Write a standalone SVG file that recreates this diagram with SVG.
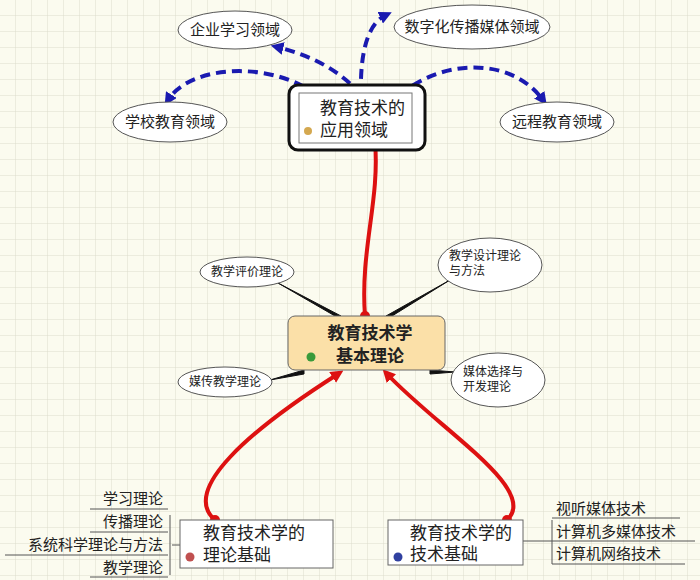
<svg xmlns="http://www.w3.org/2000/svg" width="700" height="580" viewBox="0 0 700 580">
<defs>
<pattern id="grid" width="16" height="16" patternUnits="userSpaceOnUse"><path d="M16 0V16H0" fill="none" stroke="#dcdccc" stroke-width="1"/></pattern>
<marker id="ab" viewBox="0 0 10 10" refX="5" refY="5" markerWidth="3.2" markerHeight="3.2" orient="auto"><path d="M0 0L10 5L0 10Z" fill="#1a1ab0"/></marker>
<marker id="ar" viewBox="0 0 10 10" refX="5" refY="5" markerWidth="3.2" markerHeight="3.2" orient="auto"><path d="M0 0L10 5L0 10Z" fill="#dd1111"/></marker>
<style>
text{font-family:"Liberation Serif","Noto Sans CJK SC",serif;fill:#222}
.e{fill:#fff;stroke:#555;stroke-width:1}
.b{fill:none;stroke:#1a1ab0;stroke-width:4;stroke-dasharray:10 6}
.r{fill:none;stroke:#dd1111;stroke-width:4}
.t{fill:#111;stroke:#111;stroke-width:1}
.s{font-size:15px}
.m{font-size:12px}
.l{font-size:17px}
.u{fill:none;stroke:#555;stroke-width:1}
</style>
</defs>
<rect width="700" height="580" fill="#fbfbef"/>
<rect width="700" height="580" fill="url(#grid)"/>
<g id="connectors">
<path class="b" d="M317 95C270 60 190 65 168 100" marker-end="url(#ab)"/>
<path class="b" d="M361 95C340 70 310 55 277 47" marker-end="url(#ab)"/>
<path class="b" d="M361 95C360 60 365 25 386 15" marker-end="url(#ab)"/>
<path class="b" d="M400 95C440 60 510 55 543 100" marker-end="url(#ab)"/>
<circle cx="317" cy="95" r="5" fill="#1a1ab0"/><circle cx="361" cy="95" r="5" fill="#1a1ab0"/><circle cx="400" cy="95" r="5" fill="#1a1ab0"/>
<path class="r" d="M365 316C360 250 380 200 375 142" marker-end="url(#ar)"/>
<circle cx="365" cy="316" r="5" fill="#dd1111"/>
<path class="r" d="M215 520C180 490 250 430 338 374" marker-end="url(#ar)"/>
<path class="r" d="M507 520C540 490 440 430 387 374" marker-end="url(#ar)"/>
<circle cx="215" cy="520" r="5" fill="#dd1111"/><circle cx="507" cy="520" r="5" fill="#dd1111"/>
<path class="t" d="M278 283L341 316L335 316Z"/>
<path class="t" d="M450 280L386 316L392 316Z"/>
<path class="t" d="M270 380L304 370L304 374Z"/>
<path class="t" d="M455 372L430 370L430 374Z"/>
<path class="u" d="M180 545H172M170 515V575M523 541H552M552 520V564"/>
</g>
<g id="n-app">
<rect x="289" y="85" width="136" height="65" rx="9" fill="#fff" stroke="#111" stroke-width="3"/>
<rect x="299" y="93" width="113" height="50" fill="#fff" stroke="#777"/>
<text class="l" x="320" y="114">教育技术的</text><text class="l" x="320" y="136">应用领域</text>
<circle cx="308" cy="131" r="4" fill="#d4a850"/>
</g>
<g id="n-qy"><ellipse class="e" cx="235" cy="30" rx="57" ry="19"/><text class="s" x="235" y="35" text-anchor="middle">企业学习领域</text></g>
<g id="n-sz"><ellipse class="e" cx="472" cy="27" rx="78" ry="22"/><text class="s" x="472" y="32" text-anchor="middle">数字化传播媒体领域</text></g>
<g id="n-xx"><ellipse class="e" cx="170" cy="122" rx="57" ry="20"/><text class="s" x="170" y="127" text-anchor="middle">学校教育领域</text></g>
<g id="n-yc"><ellipse class="e" cx="557" cy="122" rx="57" ry="20"/><text class="s" x="557" y="127" text-anchor="middle">远程教育领域</text></g>
<g id="n-basic">
<rect x="288" y="316" width="157" height="54" rx="7" fill="#fbe0a8" stroke="#666"/>
<text class="l" x="370" y="339" text-anchor="middle" font-weight="bold">教育技术学</text>
<text class="l" x="370" y="362" text-anchor="middle" font-weight="bold">基本理论</text>
<circle cx="311" cy="357" r="4.5" fill="#3a9a3a"/>
</g>
<g id="n-pj"><ellipse class="e" cx="247" cy="272" rx="47" ry="15"/><text class="m" x="247" y="276" text-anchor="middle">教学评价理论</text></g>
<g id="n-sj"><ellipse class="e" cx="490" cy="265" rx="52" ry="27"/><text class="m" x="449" y="260">教学设计理论</text><text class="m" x="449" y="275">与方法</text></g>
<g id="n-mc"><ellipse class="e" cx="225" cy="382" rx="47" ry="15"/><text class="m" x="225" y="386" text-anchor="middle">媒传教学理论</text></g>
<g id="n-mt"><ellipse class="e" cx="498" cy="380" rx="47" ry="27"/><text class="m" x="463" y="376">媒体选择与</text><text class="m" x="463" y="391">开发理论</text></g>
<g id="n-ll">
<rect x="180" y="520" width="153" height="48" fill="#fff" stroke="#666"/>
<text class="l" x="203" y="539">教育技术学的</text><text class="l" x="203" y="561">理论基础</text>
<circle cx="190" cy="557" r="4.5" fill="#c05050"/>
</g>
<g id="n-js">
<rect x="388" y="520" width="135" height="45" fill="#fff" stroke="#666"/>
<text class="l" x="410" y="539">教育技术学的</text><text class="l" x="410" y="560">技术基础</text>
<circle cx="398" cy="557" r="4.5" fill="#3040a0"/>
</g>
<g id="n-left">
<text class="s" x="163" y="504" text-anchor="end">学习理论</text><path class="u" d="M90 509H168"/>
<text class="s" x="163" y="527" text-anchor="end">传播理论</text><path class="u" d="M90 532H168"/>
<text class="s" x="163" y="550" text-anchor="end">系统科学理论与方法</text><path class="u" d="M5 555H168"/>
<text class="s" x="163" y="573" text-anchor="end">教学理论</text><path class="u" d="M90 577H168"/>
</g>
<g id="n-right">
<text class="s" x="556" y="514">视听媒体技术</text><path class="u" d="M552 518H680"/>
<text class="s" x="556" y="537">计算机多媒体技术</text><path class="u" d="M552 541H695"/>
<text class="s" x="556" y="559">计算机网络技术</text><path class="u" d="M552 564H685"/>
</g>
</svg>
